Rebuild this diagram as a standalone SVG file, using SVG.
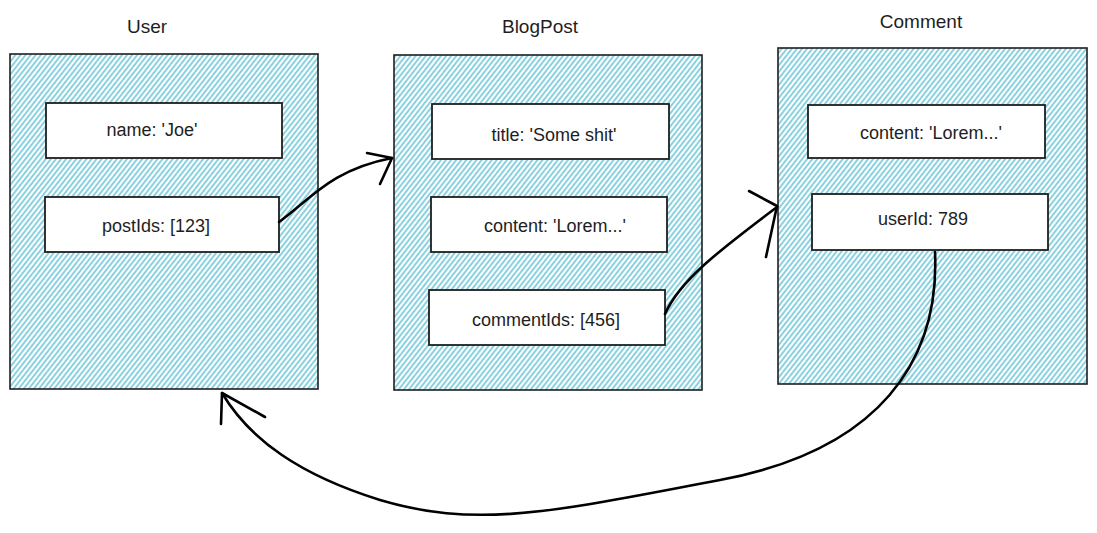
<svg xmlns="http://www.w3.org/2000/svg" width="1097" height="533" viewBox="0 0 1097 533">
<defs>
<pattern id="hatch" patternUnits="userSpaceOnUse" width="4" height="4" patternTransform="rotate(-52)">
<line x1="0" y1="2" x2="4" y2="2" stroke="#45b6cd" stroke-width="1.25"/>
</pattern>
<style>
.entity{fill:url(#hatch);stroke:#1e1e1e;stroke-width:1.6}
.field{fill:#ffffff;stroke:#1e1e1e;stroke-width:1.8}
.title{font-family:"Liberation Sans",Arial,sans-serif;font-size:19px;fill:#1e1e1e;text-anchor:middle}
.label{font-family:"Liberation Sans",Arial,sans-serif;font-size:18px;fill:#1e1e1e;text-anchor:middle;dominant-baseline:central}
.conn{fill:none;stroke:#000;stroke-width:2.6;stroke-linecap:round;stroke-linejoin:round}
</style>
</defs>
<rect width="1097" height="533" fill="#ffffff"/>
<g id="user">
<text class="title" x="147" y="33">User</text>
<rect class="entity" x="10" y="54" width="308" height="335"/>
<rect class="field" x="46" y="103" width="236" height="55"/>
<text class="label" x="152" y="130">name: 'Joe'</text>
<rect class="field" x="45" y="197" width="234" height="55"/>
<text class="label" x="156" y="226">postIds: [123]</text>
</g>
<g id="blogpost">
<text class="title" x="540" y="33">BlogPost</text>
<rect class="entity" x="394" y="55" width="308" height="335"/>
<rect class="field" x="432" y="104" width="237" height="55"/>
<text class="label" x="554" y="135">title: 'Some shit'</text>
<rect class="field" x="431" y="197" width="236" height="55"/>
<text class="label" x="555" y="226">content: 'Lorem...'</text>
<rect class="field" x="429" y="290" width="236" height="55"/>
<text class="label" x="546" y="320">commentIds: [456]</text>
</g>
<g id="comment">
<text class="title" x="921" y="28">Comment</text>
<rect class="entity" x="778" y="48" width="309" height="336"/>
<rect class="field" x="808" y="105" width="237" height="53"/>
<text class="label" x="931" y="133">content: 'Lorem...'</text>
<rect class="field" x="812" y="194" width="236" height="56"/>
<text class="label" x="923" y="219">userId: 789</text>
</g>
<g id="connectors">
<path class="conn" d="M279 222 C 310 200, 330 170, 392 158"/>
<path class="conn" d="M367 153 L392 158 L380 184"/>
<path class="conn" d="M665 314 C 680 280, 720 250, 777 207"/>
<path class="conn" d="M749 191 L777 206 L766 257"/>
<path class="conn" d="M935 252 C 940 360, 880 450, 720 480 C 560 510, 480 530, 380 500 C 300 475, 250 440, 222 393"/>
<path class="conn" d="M221 424 L222 393 L265 417"/>
</g>
</svg>
